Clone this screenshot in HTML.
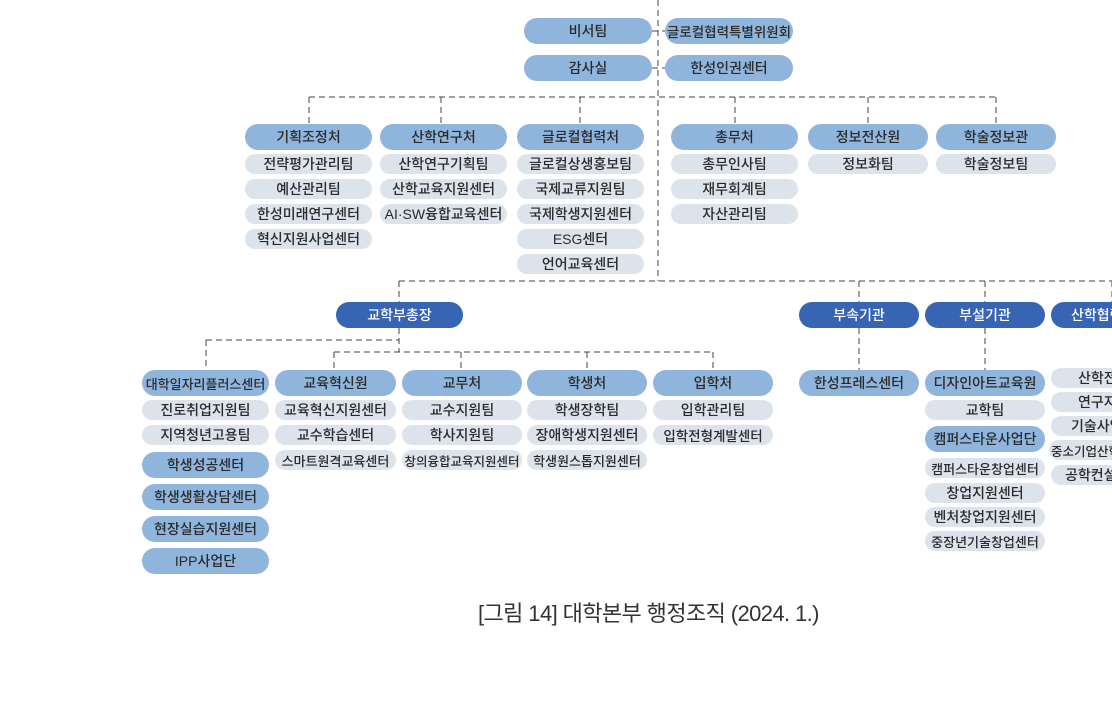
<!DOCTYPE html>
<html><head><meta charset="utf-8"><style>
body{margin:0;width:1112px;height:720px;background:#fff;position:relative;overflow:hidden;font-family:"Liberation Sans","Noto Sans CJK KR",sans-serif;}
.b{position:absolute;border-radius:13px;display:flex;align-items:center;justify-content:center;font-size:14px;color:#2a2a2a;white-space:nowrap;overflow:hidden;font-weight:500;}
.l{background:#8fb5dd;}
.g{background:#dde3ea;border-radius:10px;}
.d{background:#3864b4;color:#fff;}
svg{position:absolute;left:0;top:0}
</style></head><body>
<svg width="1112" height="720"><g stroke="#444" stroke-width="1" stroke-dasharray="6,4" fill="none">
<path d="M658 0V281"/>
<path d="M652 31H665M652 68H665"/>
<path d="M309 97H996M309 97V124M441 97V124M580 97V124M735 97V124M868 97V124M996 97V124"/>
<path d="M399 281H1112M399 281V302M859 281V302M985 281V302M1112 281V302"/>
<path d="M399 328V352M206 340H399M206 340V370M334 352H713M334 352V370M461 352V370M587 352V370M713 352V370"/>
<path d="M859 328V370M985 328V370"/>
</g></svg>
<div class="b l" style="left:524px;top:18px;width:128px;height:26px">비서팀</div>
<div class="b l" style="left:524px;top:55px;width:128px;height:26px">감사실</div>
<div class="b l" style="left:665px;top:18px;width:128px;height:26px;font-size:13.5px">글로컬협력특별위원회</div>
<div class="b l" style="left:665px;top:55px;width:128px;height:26px">한성인권센터</div>

<div class="b l" style="left:245px;top:124px;width:127px;height:26px">기획조정처</div>
<div class="b g" style="left:245px;top:154px;width:127px;height:20px">전략평가관리팀</div>
<div class="b g" style="left:245px;top:179px;width:127px;height:20px">예산관리팀</div>
<div class="b g" style="left:245px;top:204px;width:127px;height:20px">한성미래연구센터</div>
<div class="b g" style="left:245px;top:229px;width:127px;height:20px">혁신지원사업센터</div>

<div class="b l" style="left:380px;top:124px;width:127px;height:26px">산학연구처</div>
<div class="b g" style="left:380px;top:154px;width:127px;height:20px">산학연구기획팀</div>
<div class="b g" style="left:380px;top:179px;width:127px;height:20px">산학교육지원센터</div>
<div class="b g" style="left:380px;top:204px;width:127px;height:20px">AI·SW융합교육센터</div>

<div class="b l" style="left:517px;top:124px;width:127px;height:26px">글로컬협력처</div>
<div class="b g" style="left:517px;top:154px;width:127px;height:20px">글로컬상생홍보팀</div>
<div class="b g" style="left:517px;top:179px;width:127px;height:20px">국제교류지원팀</div>
<div class="b g" style="left:517px;top:204px;width:127px;height:20px">국제학생지원센터</div>
<div class="b g" style="left:517px;top:229px;width:127px;height:20px">ESG센터</div>
<div class="b g" style="left:517px;top:254px;width:127px;height:20px">언어교육센터</div>

<div class="b l" style="left:671px;top:124px;width:127px;height:26px">총무처</div>
<div class="b g" style="left:671px;top:154px;width:127px;height:20px">총무인사팀</div>
<div class="b g" style="left:671px;top:179px;width:127px;height:20px">재무회계팀</div>
<div class="b g" style="left:671px;top:204px;width:127px;height:20px">자산관리팀</div>

<div class="b l" style="left:808px;top:124px;width:120px;height:26px">정보전산원</div>
<div class="b g" style="left:808px;top:154px;width:120px;height:20px">정보화팀</div>
<div class="b l" style="left:936px;top:124px;width:120px;height:26px">학술정보관</div>
<div class="b g" style="left:936px;top:154px;width:120px;height:20px">학술정보팀</div>

<div class="b d" style="left:336px;top:302px;width:127px;height:26px">교학부총장</div>
<div class="b d" style="left:799px;top:302px;width:120px;height:26px">부속기관</div>
<div class="b d" style="left:925px;top:302px;width:120px;height:26px">부설기관</div>
<div class="b d" style="left:1051px;top:302px;width:120px;height:26px;justify-content:flex-start;padding-left:20px;box-sizing:border-box">산학협력단</div>

<div class="b l" style="left:142px;top:370px;width:127px;height:26px;font-size:13px">대학일자리플러스센터</div>
<div class="b g" style="left:142px;top:400px;width:127px;height:20px">진로취업지원팀</div>
<div class="b g" style="left:142px;top:425px;width:127px;height:20px">지역청년고용팀</div>
<div class="b l" style="left:142px;top:452px;width:127px;height:26px">학생성공센터</div>
<div class="b l" style="left:142px;top:484px;width:127px;height:26px">학생생활상담센터</div>
<div class="b l" style="left:142px;top:516px;width:127px;height:26px">현장실습지원센터</div>
<div class="b l" style="left:142px;top:548px;width:127px;height:26px">IPP사업단</div>

<div class="b l" style="left:275px;top:370px;width:121px;height:26px">교육혁신원</div>
<div class="b g" style="left:275px;top:400px;width:121px;height:20px">교육혁신지원센터</div>
<div class="b g" style="left:275px;top:425px;width:121px;height:20px">교수학습센터</div>
<div class="b g" style="left:275px;top:450px;width:121px;height:20px;font-size:13px">스마트원격교육센터</div>

<div class="b l" style="left:402px;top:370px;width:120px;height:26px">교무처</div>
<div class="b g" style="left:402px;top:400px;width:120px;height:20px">교수지원팀</div>
<div class="b g" style="left:402px;top:425px;width:120px;height:20px">학사지원팀</div>
<div class="b g" style="left:402px;top:450px;width:120px;height:20px;font-size:12.5px">창의융합교육지원센터</div>

<div class="b l" style="left:527px;top:370px;width:120px;height:26px">학생처</div>
<div class="b g" style="left:527px;top:400px;width:120px;height:20px">학생장학팀</div>
<div class="b g" style="left:527px;top:425px;width:120px;height:20px">장애학생지원센터</div>
<div class="b g" style="left:527px;top:450px;width:120px;height:20px;font-size:13px">학생원스톱지원센터</div>

<div class="b l" style="left:653px;top:370px;width:120px;height:26px">입학처</div>
<div class="b g" style="left:653px;top:400px;width:120px;height:20px">입학관리팀</div>
<div class="b g" style="left:653px;top:425px;width:120px;height:20px;font-size:13.5px">입학전형계발센터</div>

<div class="b l" style="left:799px;top:370px;width:120px;height:26px">한성프레스센터</div>

<div class="b l" style="left:925px;top:370px;width:120px;height:26px">디자인아트교육원</div>
<div class="b g" style="left:925px;top:400px;width:120px;height:20px">교학팀</div>
<div class="b l" style="left:925px;top:426px;width:120px;height:26px">캠퍼스타운사업단</div>
<div class="b g" style="left:925px;top:458px;width:120px;height:20px;font-size:13px">캠퍼스타운창업센터</div>
<div class="b g" style="left:925px;top:483px;width:120px;height:20px">창업지원센터</div>
<div class="b g" style="left:925px;top:507px;width:120px;height:20px">벤처창업지원센터</div>
<div class="b g" style="left:925px;top:531px;width:120px;height:20px;font-size:13px">중장년기술창업센터</div>

<div class="b g" style="left:1051px;top:368px;width:120px;height:20px;justify-content:flex-start;padding-left:27px;box-sizing:border-box">산학전략팀</div>
<div class="b g" style="left:1051px;top:392px;width:120px;height:20px;justify-content:flex-start;padding-left:27px;box-sizing:border-box">연구지원팀</div>
<div class="b g" style="left:1051px;top:416px;width:120px;height:20px;justify-content:flex-start;padding-left:20px;box-sizing:border-box">기술사업화팀</div>
<div class="b g" style="left:1049px;top:440px;width:120px;height:20px;justify-content:flex-start;padding-left:2px;box-sizing:border-box;font-size:12.5px">중소기업산학협력센터</div>
<div class="b g" style="left:1051px;top:465px;width:120px;height:20px;justify-content:flex-start;padding-left:14px;box-sizing:border-box">공학컨설팅센터</div>

<div style="position:absolute;left:478px;top:596px;font-size:22px;color:#333;letter-spacing:-0.6px;white-space:nowrap">[그림 14] 대학본부 행정조직 (2024. 1.)</div>
</body></html>
